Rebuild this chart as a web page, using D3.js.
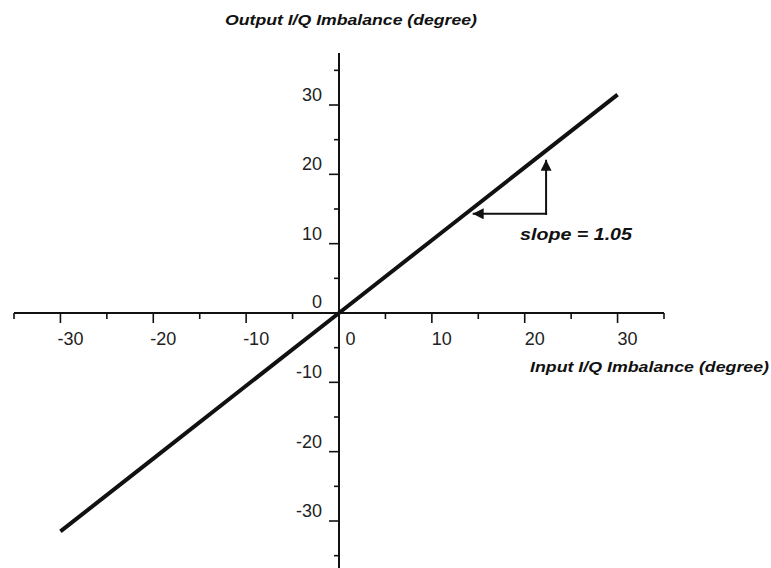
<!DOCTYPE html>
<html>
<head>
<meta charset="utf-8">
<script src="https://cdn.jsdelivr.net/npm/d3@7"></script>
<style>
  html, body { margin: 0; padding: 0; background: #fff; }
  svg { display: block; }
</style>
</head>
<body>
<svg id="chart" width="771" height="568"></svg>
<script>
// Input vs output I/Q phase imbalance (degrees)
const inputImbalance = [-30, -20, -10, 0, 10, 20, 30];
const outputImbalance = [-31.5, -21, -10.5, 0, 10.5, 21, 31.5];
const xTickValues = [-30, -20, -10, 10, 20, 30];
const yTickValues = [-30, -20, -10, 10, 20, 30];
const slopeText = "slope = 1.05";
// slope triangle corner and arrow tips (data units)
const slopeCorner = [22.3, 14.3];
const slopeArrowUpTip = 22.1;
const slopeArrowLeftTip = 14.4;

const svg = d3.select("#chart");
const x = d3.scaleLinear().domain([-35, 35]).range([14, 664]);
const y = d3.scaleLinear().domain([-37.5, 37.5]).range([573, 53]);
const x0 = x(0), y0 = y(0);
const ink = "#111";
const font = "Liberation Sans, Arial, sans-serif";

const defs = svg.append("defs");
defs.append("marker")
  .attr("id", "head").attr("viewBox", "0 0 10 10")
  .attr("refX", 10).attr("refY", 5)
  .attr("markerUnits", "userSpaceOnUse")
  .attr("markerWidth", 17).attr("markerHeight", 11)
  .attr("orient", "auto")
  .append("path").attr("d", "M0,0 L10,5 L0,10 z").attr("fill", ink);

// horizontal axis
svg.append("line").attr("x1", x(-35)).attr("x2", x(35))
  .attr("y1", y0).attr("y2", y0).attr("stroke", ink).attr("stroke-width", 2);
const xMinor = d3.range(-35, 36, 5).filter(v => v !== 0);
svg.append("g").selectAll("line").data(xMinor).join("line")
  .attr("x1", d => x(d)).attr("x2", d => x(d))
  .attr("y1", y0).attr("y2", d => y0 + (d % 10 === 0 ? 10 : 6))
  .attr("stroke", ink).attr("stroke-width", 1.6);
svg.append("g").selectAll("text").data(xTickValues).join("text")
  .attr("x", d => x(d) + 10).attr("y", y0 + 32)
  .attr("text-anchor", "middle")
  .attr("font-family", font)
  .attr("font-size", 18).attr("fill", "#222")
  .text(d => d);
svg.append("text").attr("x", x0 + 11.5).attr("y", y0 + 32)
  .attr("text-anchor", "middle")
  .attr("font-family", font)
  .attr("font-size", 18).attr("fill", "#222").text("0");

// vertical axis
svg.append("line").attr("x1", x0).attr("x2", x0)
  .attr("y1", y(37.5)).attr("y2", 580).attr("stroke", ink).attr("stroke-width", 2);
const yMinor = d3.range(-35, 36, 5).filter(v => v !== 0);
svg.append("g").selectAll("line").data(yMinor).join("line")
  .attr("x1", d => x0 - (d % 10 === 0 ? 10 : 5)).attr("x2", x0)
  .attr("y1", d => y(d)).attr("y2", d => y(d))
  .attr("stroke", ink).attr("stroke-width", 1.6);
svg.append("g").selectAll("text").data(yTickValues).join("text")
  .attr("x", x0 - 17).attr("y", d => y(d) - 4)
  .attr("text-anchor", "end")
  .attr("font-family", font)
  .attr("font-size", 18).attr("fill", "#222")
  .text(d => d);
svg.append("text").attr("x", x0 - 17).attr("y", y0 - 5)
  .attr("text-anchor", "end")
  .attr("font-family", font)
  .attr("font-size", 18).attr("fill", "#222").text("0");

// axis titles
svg.append("text").attr("x", 225).attr("y", 25)
  .attr("font-family", font)
  .attr("font-size", 15).attr("font-weight", "bold").attr("font-style", "italic")
  .attr("textLength", 252).attr("lengthAdjust", "spacingAndGlyphs")
  .attr("fill", ink).text("Output I/Q Imbalance (degree)");
svg.append("text").attr("x", 530).attr("y", 372)
  .attr("font-family", font)
  .attr("font-size", 15).attr("font-weight", "bold").attr("font-style", "italic")
  .attr("textLength", 239).attr("lengthAdjust", "spacingAndGlyphs")
  .attr("fill", ink).text("Input I/Q Imbalance (degree)");

// transfer line
const pts = inputImbalance.map((v, i) => [v, outputImbalance[i]]);
svg.append("path").datum(pts)
  .attr("d", d3.line().x(d => x(d[0])).y(d => y(d[1])))
  .attr("fill", "none").attr("stroke", ink).attr("stroke-width", 4);

// slope annotation arrows
svg.append("line")
  .attr("x1", x(slopeCorner[0])).attr("y1", y(slopeCorner[1]) + 1)
  .attr("x2", x(slopeCorner[0])).attr("y2", y(slopeArrowUpTip))
  .attr("stroke", ink).attr("stroke-width", 2).attr("marker-end", "url(#head)");
svg.append("line")
  .attr("x1", x(slopeCorner[0]) + 1).attr("y1", y(slopeCorner[1]))
  .attr("x2", x(slopeArrowLeftTip)).attr("y2", y(slopeCorner[1]))
  .attr("stroke", ink).attr("stroke-width", 2).attr("marker-end", "url(#head)");
svg.append("text").attr("x", 520).attr("y", 240)
  .attr("font-family", font)
  .attr("font-size", 17).attr("font-weight", "bold").attr("font-style", "italic")
  .attr("textLength", 112).attr("lengthAdjust", "spacingAndGlyphs")
  .attr("fill", ink).text(slopeText);
</script>
</body>
</html>
